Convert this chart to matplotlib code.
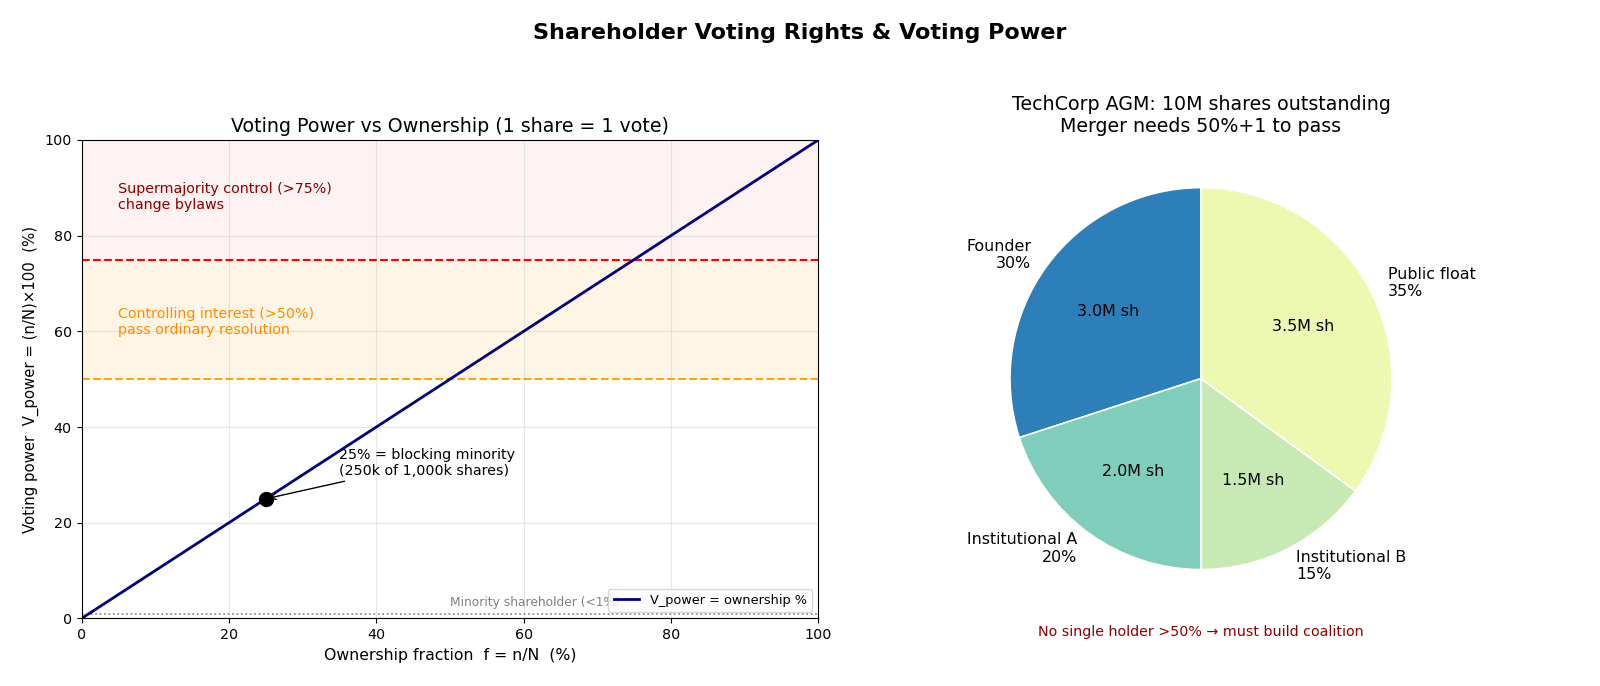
import matplotlib
matplotlib.use("Agg")
import matplotlib.pyplot as plt
import numpy as np

# left panel data
ownership_pct = np.array([0, 100])
voting_power_pct = ownership_pct * 1.0  # 1 share = 1 vote
blocking_pct = 25
supermajority = 75
controlling = 50
minority = 1

# right panel data
holders = ["Founder", "Institutional A", "Institutional B", "Public float"]
shares_m = [3.0, 2.0, 1.5, 3.5]
total_m = 10
holder_colors = ["#2c7fb8", "#7fcdbb", "#c7e9b4", "#edf8b1"]

plt.rcParams["xtick.labelsize"] = 10.3
plt.rcParams["ytick.labelsize"] = 10.3

fig = plt.figure(figsize=(16, 6.86), dpi=100)
fig.suptitle("Shareholder Voting Rights & Voting Power", fontsize=16,
             fontweight="bold", y=0.967)

ax = fig.add_axes([0.051, 0.0985, 0.4605, 0.6976])
ax.axhspan(supermajority, 100, color="red", alpha=0.05, lw=0)
ax.axhspan(controlling, supermajority, color="orange", alpha=0.1, lw=0)
ax.axhline(supermajority, color="red", ls="--", lw=1.5)
ax.axhline(controlling, color="orange", ls="--", lw=1.5)
ax.axhline(minority, color="gray", ls=":", lw=1.2)
ax.plot(ownership_pct, voting_power_pct, color="navy", lw=2,
        label="V_power = ownership %")
ax.plot(blocking_pct, blocking_pct, "o", color="black", ms=10)
ax.annotate("25% = blocking minority\n(250k of 1,000k shares)",
            xy=(blocking_pct, blocking_pct), xytext=(35, 30),
            fontsize=10.3, arrowprops=dict(arrowstyle="->", color="black", lw=1))
ax.text(5, 88, "Supermajority control (>75%)\nchange bylaws",
        color="darkred", fontsize=10.3, va="center")
ax.text(5, 62, "Controlling interest (>50%)\npass ordinary resolution",
        color="darkorange", fontsize=10.3, va="center")
ax.text(50, 2.6, "Minority shareholder (<1%)", color="gray", fontsize=8.8)
ax.set_xlim(0, 100)
ax.set_ylim(0, 100)
ax.grid(alpha=0.3)
ax.set_xlabel("Ownership fraction  f = n/N  (%)", fontsize=11.3)
ax.set_ylabel("Voting power  V_power = (n/N)×100  (%)", fontsize=10.7)
ax.set_title("Voting Power vs Ownership (1 share = 1 vote)", fontsize=13.7)
ax.legend(loc="lower right", fontsize=9.3)

ax2 = fig.add_axes([0.6014, 0.1001, 0.2984, 0.696])
labels = [f"{h}\n{s / total_m * 100:.0f}%" for h, s in zip(holders, shares_m)]
ax2.pie(shares_m, labels=labels, colors=holder_colors, startangle=90,
        autopct=lambda p: f"{p * total_m / 100:.1f}M sh",
        wedgeprops=dict(edgecolor="white", linewidth=1.2),
        textprops=dict(fontsize=11.4))
ax2.set_aspect("equal")
ax2.set_title("TechCorp AGM: 10M shares outstanding\nMerger needs 50%+1 to pass",
              fontsize=13.7)
fig.text(0.7506, 0.078, "No single holder >50% → must build coalition",
         color="darkred", fontsize=10.3, ha="center", va="center")

fig.savefig("out.png", dpi=100)
